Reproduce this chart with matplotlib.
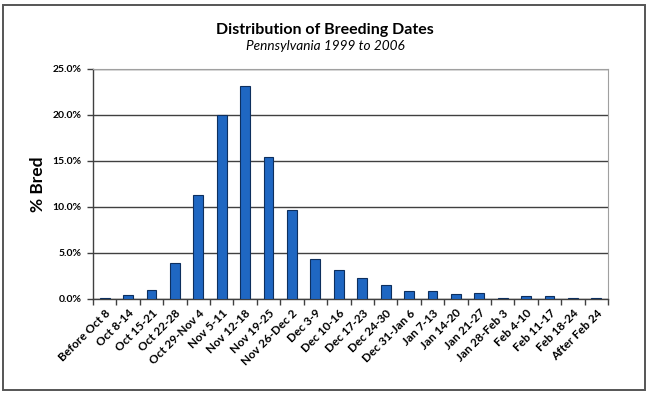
import matplotlib
matplotlib.use("Agg")
import matplotlib.pyplot as plt
import matplotlib.patches as mpatches
import numpy as np
from matplotlib.ticker import FixedLocator, PercentFormatter

# ── data ──────────────────────────────────────────────────────────────────────
periods = [
    "Before Oct 8", "Oct 8-14", "Oct 15-21", "Oct 22-28", "Oct 29-Nov 4",
    "Nov 5-11", "Nov 12-18", "Nov 19-25", "Nov 26-Dec 2", "Dec 3-9",
    "Dec 10-16", "Dec 17-23", "Dec 24-30", "Dec 31-Jan 6", "Jan 7-13",
    "Jan 14-20", "Jan 21-27", "Jan 28-Feb 3", "Feb 4-10", "Feb 11-17",
    "Feb 18-24", "After Feb 24",
]
pct_bred = [
    0.15, 0.43, 0.94, 3.87, 11.3,
    20.0, 23.15, 15.48, 9.7, 4.34,
    3.11, 2.24, 1.56, 0.9, 0.9,
    0.58, 0.62, 0.14, 0.33, 0.33,
    0.14, 0.14,
]
y_ticks = [0, 5, 10, 15, 20, 25]

FONT = "Lato"
BAR = "#1f67c2"
EDGE = "#0d2f5e"

fig = plt.figure(figsize=(6.5, 3.98), dpi=100)
fig.patches.append(mpatches.Rectangle(
    (3 / 650, 1 - 390 / 398), 642 / 650, 385 / 398,
    transform=fig.transFigure, fill=False, edgecolor="#555555", linewidth=1.4))

ax = fig.add_axes([93 / 650, 1 - 299 / 398, 515 / 650, 230 / 398])
x = np.arange(len(periods))
ax.bar(x, pct_bred, width=0.42, color=BAR, edgecolor=EDGE, linewidth=0.8, zorder=3)

ax.set_xlim(-0.5, len(periods) - 0.5)
ax.set_ylim(0, 25)
ax.yaxis.set_major_locator(FixedLocator(y_ticks))
ax.yaxis.set_major_formatter(PercentFormatter(decimals=1))
ax.grid(axis="y", color="#404040", linewidth=1.0, zorder=0)

# ticks between categories, labels under each bar
ax.set_xticks(x)
ax.set_xticklabels(periods, rotation=45, ha="right", rotation_mode="anchor",
                   fontsize=8.5, fontweight="bold", family=FONT)
ax.tick_params(axis="x", which="major", length=0, pad=6)
ax.set_xticks(np.arange(-0.5, len(periods)), minor=True)
ax.tick_params(axis="x", which="minor", length=4, width=1, color="#404040",
               direction="out")
ax.tick_params(axis="y", length=4, width=1, color="#404040", direction="out",
               labelsize=7.5, pad=4)
for lbl in ax.get_yticklabels():
    lbl.set_fontweight("bold")
    lbl.set_family(FONT)

for side in ("top", "right"):
    ax.spines[side].set_color("#a0a0a0")
for side in ("left", "bottom"):
    ax.spines[side].set_color("#404040")
    ax.spines[side].set_linewidth(1.0)

ax.set_ylabel("% Bred", fontsize=12.5, fontweight="bold", family=FONT)
ax.yaxis.set_label_coords(-0.092, 0.5)

fig.text(0.5, 1 - 30 / 398, "Distribution of Breeding Dates", ha="center",
         va="center", fontsize=11.5, fontweight="bold", family=FONT)
fig.text(0.5, 1 - 46 / 398, "Pennsylvania 1999 to 2006", ha="center",
         va="center", fontsize=9.8, style="italic", family=FONT)

fig.savefig("out.png", dpi=100, facecolor="white")
